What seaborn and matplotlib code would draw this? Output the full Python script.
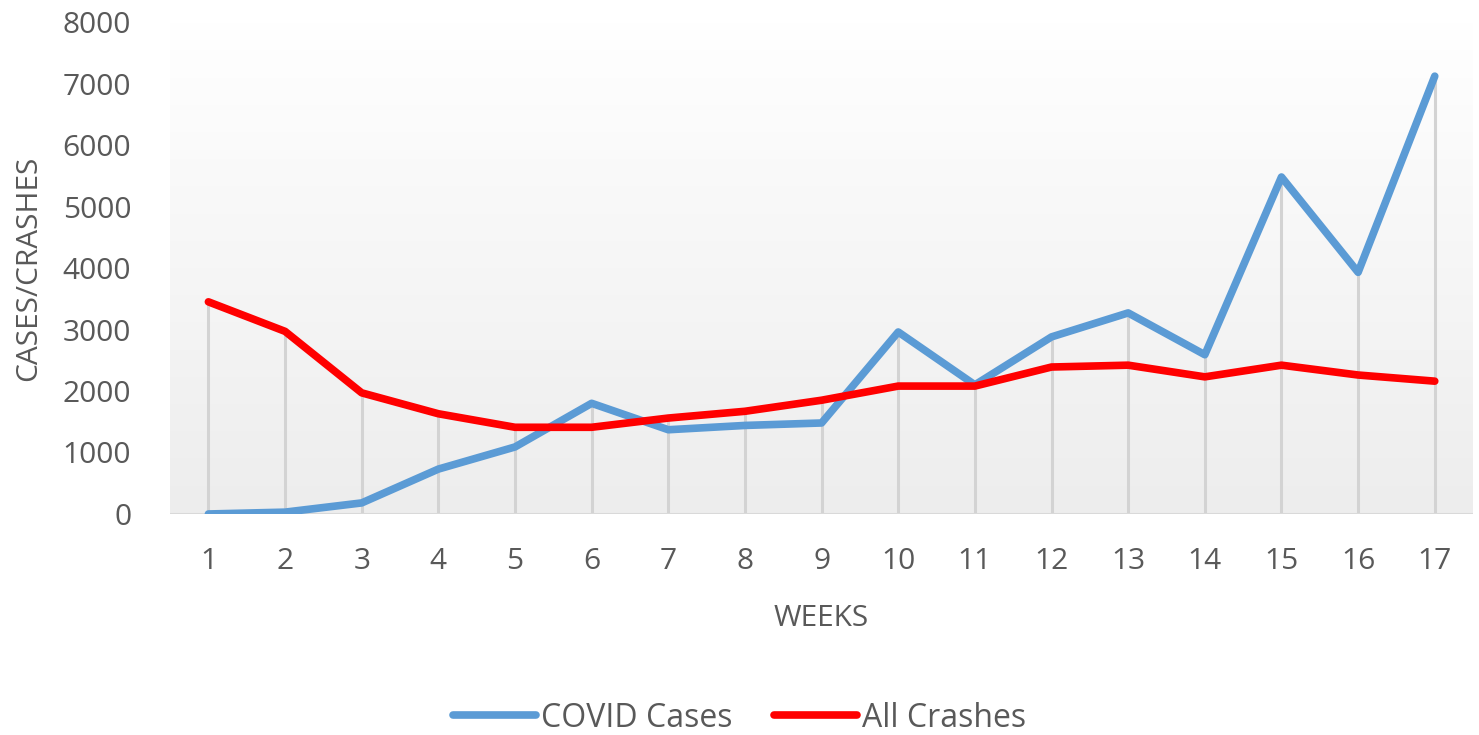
import numpy as np
import pandas as pd
import matplotlib
matplotlib.use("Agg")
import matplotlib.pyplot as plt
import seaborn as sns
from matplotlib.colors import LinearSegmentedColormap
from matplotlib.lines import Line2D

weeks = list(range(1, 18))
covid_cases = [0, 30, 180, 730, 1090, 1800, 1370, 1440, 1480, 2960, 2100, 2880, 3270, 2590, 5480, 3930, 7120]
all_crashes = [3450, 2970, 1970, 1630, 1410, 1410, 1560, 1670, 1850, 2080, 2080, 2390, 2420, 2230, 2420, 2260, 2160]
series_names = ["COVID Cases", "All Crashes"]
colors = ["#5B9BD5", "#FF0000"]
y_ticks = [0, 1000, 2000, 3000, 4000, 5000, 6000, 7000, 8000]

sns.set_theme(style="white")
plt.rcParams["font.family"] = ["Open Sans", "DejaVu Sans"]
text_color = "#595959"

df = pd.DataFrame({
    "week": weeks * 2,
    "value": covid_cases + all_crashes,
    "series": [series_names[0]] * len(weeks) + [series_names[1]] * len(weeks),
})

fig = plt.figure(figsize=(14.79, 7.35), dpi=100)
ax = fig.add_axes([0.115, 0.3007, 0.881, 0.6693])

# background gradient (white top -> light grey bottom)
grad = np.linspace(0.0, 1.0, 256).reshape(-1, 1)
cmap = LinearSegmentedColormap.from_list("g", ["#EDEDED", "#FFFFFF"])
ax.imshow(grad, extent=[0, 1, 0, 1], transform=ax.transAxes, aspect="auto",
          cmap=cmap, zorder=0, origin="lower")

# drop lines
tops = np.maximum(covid_cases, all_crashes)
ax.vlines(weeks, 0, tops, colors="#D3D3D3", linewidth=2.2, zorder=1)
ax.axhline(0, color="#D9D9D9", linewidth=2.2, zorder=1)

sns.lineplot(data=df, x="week", y="value", hue="series", palette=colors,
             linewidth=5.5, ax=ax, legend=False, zorder=3,
             solid_capstyle="round", solid_joinstyle="round")

ax.set_xlim(0.5, 17.5)
ax.set_ylim(0, 8000)
ax.set_xticks(weeks)
ax.set_xticklabels([str(w) for w in weeks])
ax.set_yticks(y_ticks)
ax.tick_params(axis="both", length=0, labelsize=21.5, colors=text_color)
ax.tick_params(axis="x", pad=24)
ax.tick_params(axis="y", pad=28)
for s in ax.spines.values():
    s.set_visible(False)
ax.set_xlabel("WEEKS", fontsize=21.5, color=text_color, labelpad=20)
ax.set_ylabel("CASES/CRASHES", fontsize=21.5, color=text_color, labelpad=14)

handles = [Line2D([0], [0], color=c, linewidth=5.5, solid_capstyle="round") for c in colors]
fig.legend(handles, series_names, loc="center", bbox_to_anchor=(0.5, 0.023), ncol=2,
           frameon=False, fontsize=23, labelcolor=text_color, handlelength=2.6,
           handletextpad=0.15, columnspacing=1.3)

fig.savefig("out.png", dpi=100)
